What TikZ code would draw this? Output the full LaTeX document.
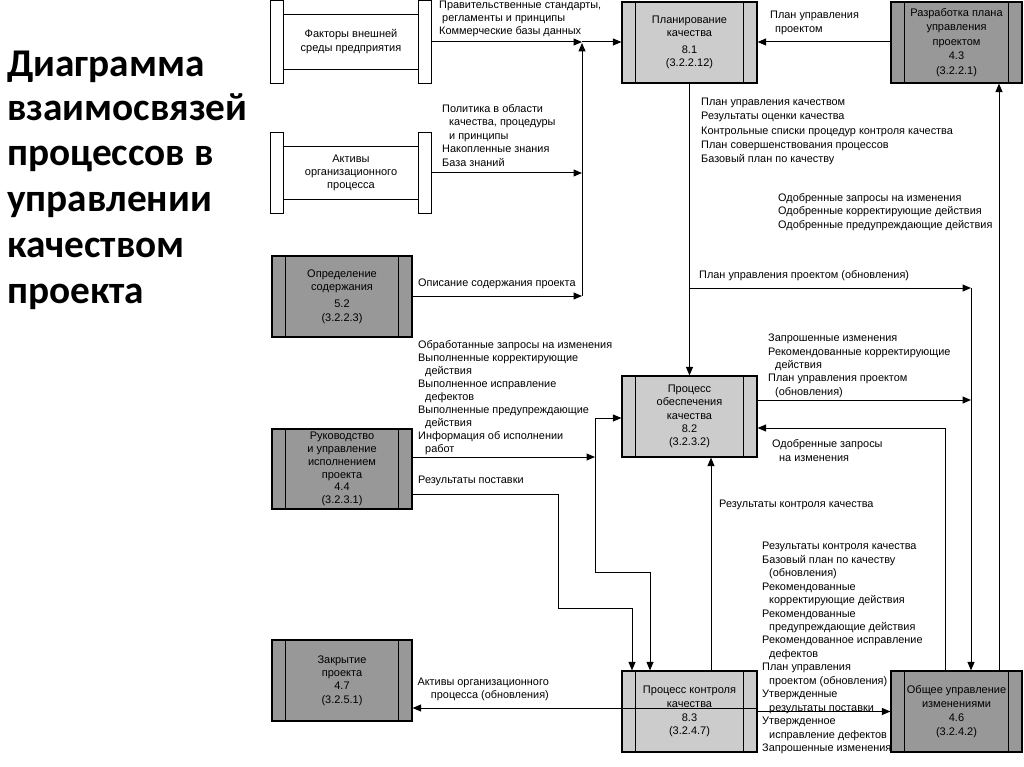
\documentclass[tikz,border=0pt]{standalone}
\usepackage{fontspec}
\setmainfont{Liberation Sans}
\newfontfamily\titlefont{Carlito}
\usetikzlibrary{arrows.meta,calc}
\definecolor{darkbox}{RGB}{152,152,152}
\definecolor{lightbox}{RGB}{204,204,204}
\tikzset{
  conn/.style={line width=1pt, -{Triangle[length=8.5pt,width=7pt]}},
  plain/.style={line width=1pt},
  boxtext/.style={font=\fontsize{11}{13.3}\selectfont, align=center},
  procbox/.style={draw, line width=1.2pt, inner sep=0pt, minimum height=81pt, boxtext,
    path picture={
      \draw[line width=1.2pt] ([xshift=13.5pt]path picture bounding box.north west) -- ([xshift=13.5pt]path picture bounding box.south west);
      \draw[line width=1.2pt] ([xshift=-13.5pt]path picture bounding box.north east) -- ([xshift=-13.5pt]path picture bounding box.south east);}},
  darkproc/.style={procbox, fill=darkbox},
  lightproc/.style={procbox, fill=lightbox},
  extent/.style={inner sep=0pt, minimum width=160pt, boxtext},
  lbl/.style={font=\fontsize{10.9}{13.3}\selectfont, align=left, anchor=north west, inner sep=0pt},
  ttl/.style={font=\titlefont\bfseries\fontsize{39.3}{45}\selectfont, anchor=base west, inner sep=0pt},
}
\newcommand{\ind}{\hspace*{7pt}}
\begin{document}
\begin{tikzpicture}[x=1pt, y=-1pt]
\useasboundingbox[fill=white] (0,0) rectangle (1024,767);

% title
\node[ttl] (t1) at (7,77) {Диаграмма};
\node[ttl] (t2) at (7,121) {взаимосвязей};
\node[ttl] (t3) at (7,166) {процессов в};
\node[ttl] (t4) at (7,212) {управлении};
\node[ttl] (t5) at (7,258) {качеством};
\node[ttl] (t6) at (7,303) {проекта};

% external entities
\node[extent, minimum height=82pt] (fact) at (351,42) {Факторы внешней\\[0.7pt]среды предприятия};
\node[extent, minimum height=80pt] (act) at (351,173) {Активы\\организационного\\процесса};
\foreach \n in {fact,act}{
  \draw[line width=1.2pt, fill=white] (\n.north west) rectangle ([xshift=13pt]\n.south west);
  \draw[line width=1.2pt, fill=white] ([xshift=-13pt]\n.north east) rectangle (\n.south east);
  \draw[line width=1.2pt] ([xshift=13pt,yshift=-14pt]\n.north west) -- ([xshift=-13pt,yshift=-14pt]\n.north east);
  \draw[line width=1.2pt] ([xshift=13pt,yshift=14pt]\n.south west) -- ([xshift=-13pt,yshift=14pt]\n.south east);
}

% process boxes
\node[lightproc, minimum width=135pt] (p81) at (689.5,42.5) {Планирование\\качества\\[3pt]8.1\\(3.2.2.12)};
\node[darkproc, minimum width=131pt, font=\fontsize{11}{14.5}\selectfont] (dev) at (956.5,42.5) {Разработка плана\\управления\\проектом\\4.3\\(3.2.2.1)};
\node[darkproc, minimum width=140pt] (def) at (342,296.5) {Определение\\содержания\\[4pt]5.2\\(3.2.2.3)};
\node[darkproc, minimum width=140pt, minimum height=80pt, font=\fontsize{11}{12.9}\selectfont] (lead) at (342,469) {Руководство\\и управление\\исполнением\\проекта\\4.4\\(3.2.3.1)};
\node[darkproc, minimum width=140pt] (close) at (342,680.5) {Закрытие\\проекта\\4.7\\(3.2.5.1)};
\node[lightproc, minimum width=135pt] (p82) at (689.5,416.5) {Процесс\\обеспечения\\качества\\8.2\\(3.2.3.2)};
\node[lightproc, minimum width=135pt] (p83) at (689.5,711.5) {Процесс контроля\\качества\\[1pt]8.3\\(3.2.4.7)};
\node[darkproc, minimum width=131pt] (ccm) at (956.5,711.5) {Общее управление\\изменениями\\[1.5pt]4.6\\(3.2.4.2)};

% coordinates
\coordinate (J1) at (582,42);
\coordinate (J2) at (582,173);
\coordinate (J3) at (582,296);
\coordinate (B1) at (689.5,288);
\coordinate (R1) at (971,288);
\coordinate (R2) at (971,400);
\coordinate (U1) at (999,671);
\coordinate (C1) at (945,671);
\coordinate (C2) at (945,428);
\coordinate (Q1) at (711,671);
\coordinate (W1) at (595,457);
\coordinate (W2) at (595,418);
\coordinate (W3) at (595,572);
\coordinate (W4) at (650,572);
\coordinate (D1) at (558,494);
\coordinate (D2) at (558,608);
\coordinate (D3) at (632,608);
\coordinate (K1) at (757,708);

% connectors
\draw[conn] (fact.east) -- (J1);
\draw[conn] (act.east) -- (J2);
\draw[conn] (def.east |- J3) -- (J3);
\draw[conn] (J3) -- ([yshift=-1pt]J1);
\draw[conn] (J1) -- (p81.west |- J1);
\draw[conn] (dev.west |- J1) -- (p81.east |- J1);
\draw[conn] (p81.south) -- (p82.north);
\draw[conn] (B1) -- (R1);
\draw[conn] (R1) -- (ccm.north -| R1);
\draw[conn] (U1) -- (dev.south -| U1);
\draw[conn] (p82.east |- R2) -- (R2);
\draw[conn] (C1) -- (C2) -- (p82.east |- C2);
\draw[conn] (Q1) -- (p82.south -| Q1);
\draw[conn] (lead.east |- W1) -- (W1);
\draw[plain] (W2) -- (W3);
\draw[conn] (W2) -- (p82.west |- W2);
\draw[conn] (W3) -- (W4) -- (p83.north -| W4);
\draw[conn] (lead.east |- D1) -- (D1) -- (D2) -- (D3) -- (p83.north -| D3);
\draw[conn] (p83.east |- ccm.west) -- (ccm.west);
\draw[conn] (K1) -- (close.east |- K1);

% labels
\node[lbl, font=\fontsize{10.9}{12.8}\selectfont] (l1) at (439,1) {Правительственные стандарты,\\\hspace*{3pt}регламенты и принципы\\Коммерческие базы данных};
\node[lbl, font=\fontsize{10.9}{13.6}\selectfont] (l2) at (442,104) {Политика в области\\\ind качества, процедуры\\\ind и принципы\\Накопленные знания\\База знаний};
\node[lbl] (l3) at (418,279) {Описание содержания проекта};
\node[lbl, font=\fontsize{10.9}{13.1}\selectfont] (l4) at (418,340) {Обработанные запросы на изменения\\Выполненные корректирующие\\\ind действия\\Выполненное исправление\\\ind дефектов\\Выполненные предупреждающие\\\ind действия\\Информация об исполнении\\\ind работ};
\node[lbl] (l5) at (418,476) {Результаты поставки};
\node[lbl, font=\fontsize{10.9}{14}\selectfont] (l6) at (770,11) {План управления\\\hspace*{5pt}проектом};
\node[lbl, font=\fontsize{10.9}{14.3}\selectfont] (l7) at (701,98) {План управления качеством\\Результаты оценки качества\\Контрольные списки процедур контроля качества\\План совершенствования процессов\\Базовый план по качеству};
\node[lbl, font=\fontsize{10.9}{13.5}\selectfont] (l8) at (778,193) {Одобренные запросы на изменения\\Одобренные корректирующие действия\\Одобренные предупреждающие действия};
\node[lbl] (l9) at (699,270) {План управления проектом (обновления)};
\node[lbl] (l10) at (768,334) {Запрошенные изменения\\Рекомендованные корректирующие\\\ind действия\\План управления проектом\\\ind (обновления)};
\node[lbl, font=\fontsize{10.9}{14}\selectfont] (l11) at (772,439) {Одобренные запросы\\\ind на изменения};
\node[lbl] (l12) at (719,500) {Результаты контроля качества};
\node[lbl, font=\fontsize{10.9}{13.47}\selectfont] (l13) at (762,542) {Результаты контроля качества\\Базовый план по качеству\\\ind (обновления)\\Рекомендованные\\\ind корректирующие действия\\Рекомендованные\\\ind предупреждающие действия\\Рекомендованное исправление\\\ind дефектов\\План управления\\\ind проектом (обновления)\\Утвержденные\\\ind результаты поставки\\Утвержденное\\\ind исправление дефектов\\Запрошенные изменения};
\node[lbl, align=right, anchor=north east, font=\fontsize{10.9}{12.5}\selectfont] (l14) at (549,678) {Активы организационного\\процесса (обновления)};
\end{tikzpicture}
\end{document}
